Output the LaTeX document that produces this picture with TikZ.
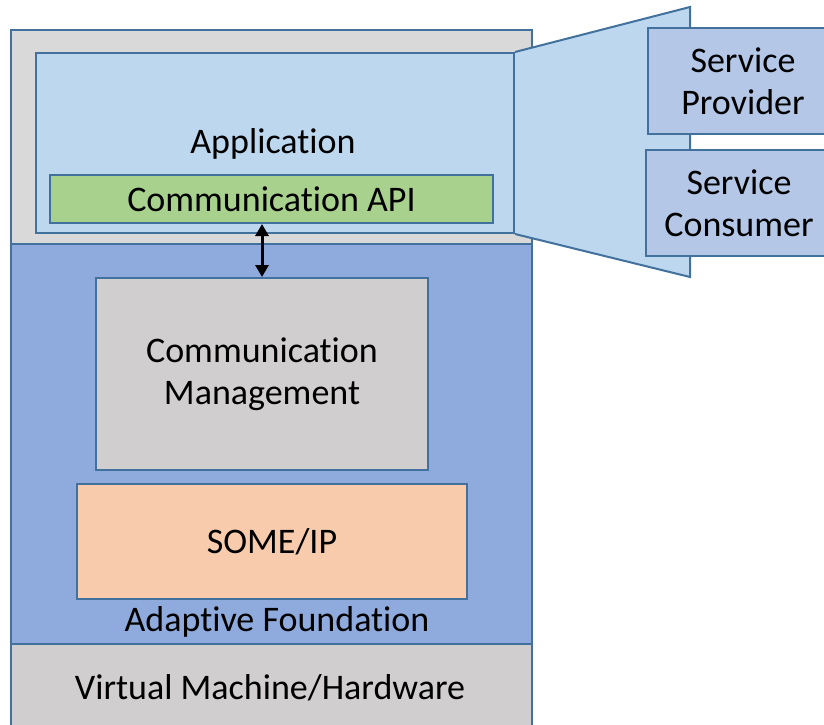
\documentclass[tikz,border=0pt]{standalone}
\usepackage{fontspec}
\setmainfont{Carlito}[Ligatures=NoCommon]
\usetikzlibrary{arrows.meta}
\definecolor{edge}{HTML}{41719C}
\definecolor{appgray}{HTML}{D9D9D9}
\definecolor{appblue}{HTML}{BDD7EE}
\definecolor{apigreen}{HTML}{A9D18E}
\definecolor{foundblue}{HTML}{8FAADC}
\definecolor{boxgray}{HTML}{D0CECE}
\definecolor{peach}{HTML}{F8CBAD}
\definecolor{svcblue}{HTML}{B4C7E7}
\begin{document}
\begin{tikzpicture}[x=1pt,y=-1pt,
  layer/.style={draw=edge, line width=2pt, inner sep=0pt, anchor=north west,
    align=center, font=\fontsize{36}{42}\selectfont},
  label/.style={inner sep=0pt, font=\fontsize{36}{42}\selectfont},
  link/.style={line width=3pt, {Stealth[length=12pt,width=13pt,inset=0pt]}-{Stealth[length=12pt,width=13pt,inset=0pt]}}]
\useasboundingbox (0,0) rectangle (824,725);
\clip (0,0) rectangle (824,725);
% stacked layers
\node[layer, fill=appgray, minimum width=521pt, minimum height=214pt] (top) at (10,29) {};
\node[layer, fill=foundblue, minimum width=521pt, minimum height=400pt] (found) at (10,243) {};
\node[layer, fill=boxgray, minimum width=521pt, minimum height=95pt] (hw) at (10,643) {};
% application area
\node[layer, fill=appblue, minimum width=478pt, minimum height=180pt] (app) at (35,52) {};
\node[layer, fill=apigreen, minimum width=443pt, minimum height=48pt] (api) at (49,174) {Communication API};
\node[label] (applbl) at (273,144) {Application};
% zoom-out wedge towards the service roles
\coordinate (wedgeT) at (690,7);
\coordinate (wedgeB) at (690,277);
\draw[edge, fill=appblue, line width=2pt, line join=miter]
  (app.north east) -- (wedgeT) -- (wedgeB) -- (app.south east);
\node[layer, fill=svcblue, minimum width=190pt, minimum height=106pt] (prov) at (647,27) {Service\\Provider};
\node[layer, fill=svcblue, minimum width=186pt, minimum height=106pt] (cons) at (645,149) {Service\\Consumer};
% foundation contents
\node[layer, fill=boxgray, minimum width=332pt, minimum height=192pt] (cm) at (95,277) {Communication\\Management};
\node[layer, fill=peach, minimum width=390pt, minimum height=115pt] (someip) at (76,483) {SOME/IP};
\node[label] (foundlbl) at (277,622) {Adaptive Foundation};
\node[label] (hwlbl) at (270,688) {Virtual Machine/Hardware};
% API link
\draw[link] (api.south -| cm.north) -- (cm.north);
\end{tikzpicture}
\end{document}
